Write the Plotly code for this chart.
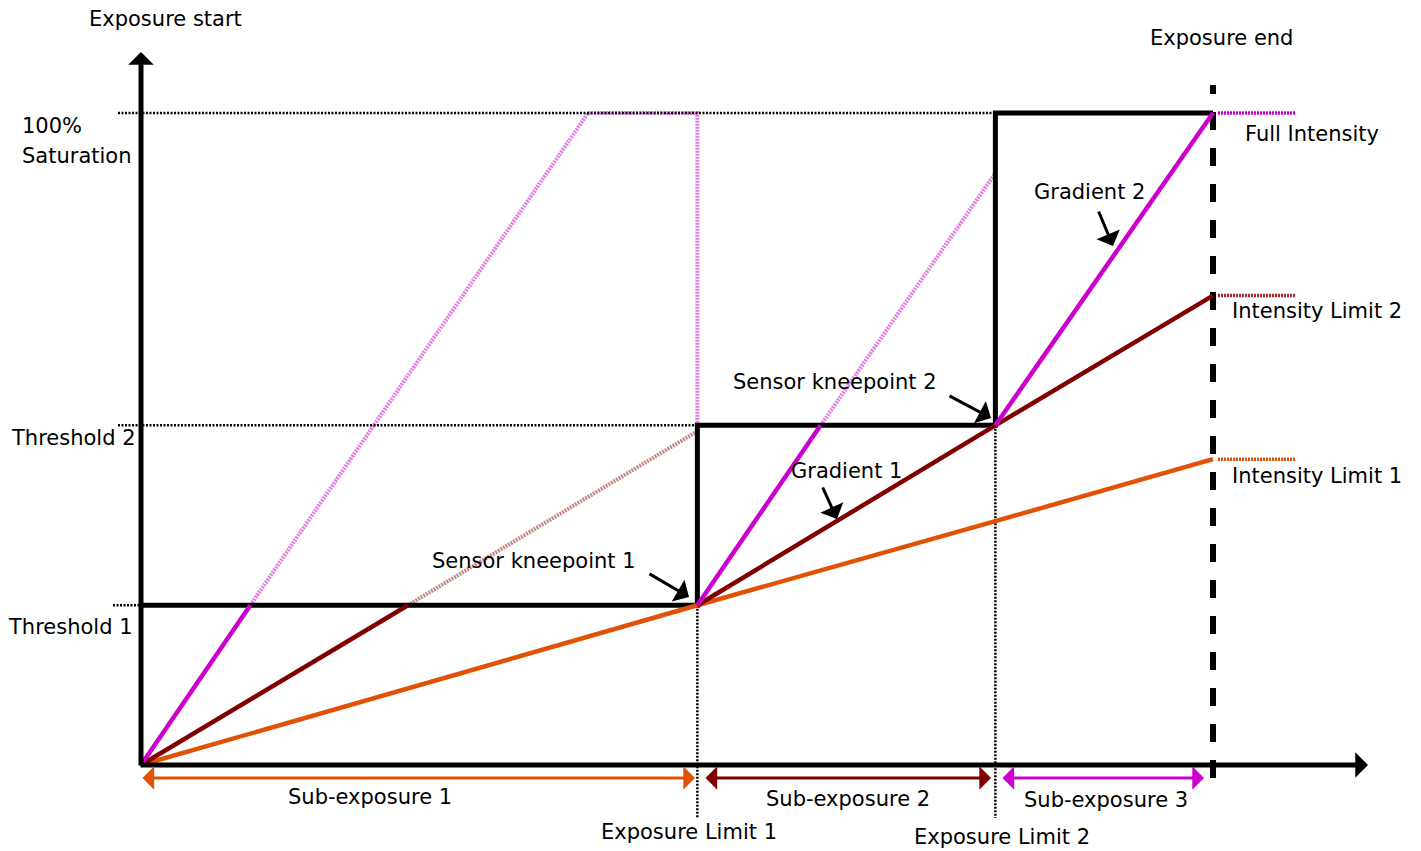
import plotly.graph_objects as go

# ---------------- data (time in % of exposure, level in % of saturation) ----
exposure_limits = [51.9, 79.7, 100.0]        # Exposure Limit 1, 2, Exposure end
thresholds = [24.5, 52.1, 100.0]             # Threshold 1, Threshold 2, 100% Saturation

# barrier (black step line)
barrier_t = [0, 51.9, 51.9, 79.7, 79.7, 100.0]
barrier_l = [24.5, 24.5, 52.1, 52.1, 100.0, 100.0]

# Full intensity (magenta)
full_solid_t = [0, 10.2, None, 51.9, 63.4, None, 79.7, 100.0]
full_solid_l = [0, 24.5, None, 24.5, 52.1, None, 52.1, 100.0]
full_faint_t = [10.2, 41.7, 51.9, 51.9, None, 63.4, 79.7]
full_faint_l = [24.5, 100.0, 100.0, 24.5, None, 52.1, 90.8]

# Intensity limit 2 (dark red)
lim2_solid_t = [0, 24.9, None, 51.9, 79.7, 100.0]
lim2_solid_l = [0, 24.5, None, 24.5, 52.1, 72.0]
lim2_faint_t = [24.9, 51.9]
lim2_faint_l = [24.5, 51.2]

# Intensity limit 1 (orange)
lim1_t = [0, 51.9, 79.7, 100.0]
lim1_l = [0, 24.5, 37.4, 46.9]

end_levels = [100.0, 72.0, 46.9]              # Full Intensity, Limit 2, Limit 1

MAGENTA = "#CC00CC"
MAGENTA_F = "#E27FE2"
DARKRED = "#800000"
DARKRED_F = "#C48A8A"
ORANGE = "#E05206"

W, H = 1421, 851
X0, Y0, SX, SY = 141, 765, 10.72, 6.52       # pixel mapping of the diagram frame


def tx(px):
    return (px - X0) / SX


def ly(py):
    return (Y0 - py) / SY


fig = go.Figure()


def line(t, l, color, width, dash="solid"):
    fig.add_trace(go.Scatter(x=t, y=l, mode="lines", hoverinfo="skip", showlegend=False,
                             line=dict(color=color, width=width, dash=dash),
                             connectgaps=False))


# faint (clipped) parts
line(full_faint_t, full_faint_l, MAGENTA_F, 4, "2px,1px")
line(lim2_faint_t, lim2_faint_l, DARKRED_F, 4, "2px,1px")

# dotted black guides
guide_end = [0, 51.9, 79.7]
guide_start = [tx(113), tx(118), tx(118)]
for lev, ts, te in zip(thresholds, guide_start, guide_end):
    line([ts, te], [lev, lev], "black", 2.5, "2px,1.5px")
# vertical dotted at exposure limits
line([exposure_limits[0], exposure_limits[0]], [thresholds[0], ly(818)], "black", 2.5, "2px,1.5px")
line([exposure_limits[1], exposure_limits[1]], [thresholds[1], ly(818)], "black", 2.5, "2px,1.5px")

# right-side dotted level markers
for lev, c in zip(end_levels, [MAGENTA, "#A52A2A", ORANGE]):
    line([tx(1218), tx(1296)], [lev, lev], c, 3.5, "2px,1px")

# black barrier
line(barrier_t, barrier_l, "black", 5)

# exposure end dashed
line([exposure_limits[2], exposure_limits[2]], [ly(778), ly(85)], "black", 6, "18px,18px")

# response curves
line(lim1_t, lim1_l, ORANGE, 4.5)
line(lim2_solid_t, lim2_solid_l, DARKRED, 4.5)
line(full_solid_t, full_solid_l, MAGENTA, 4.5)

ann = []


def arrow(x0, y0, x1, y1, color, width, size, both=False):
    d = dict(x=x1, y=y1, ax=x0, ay=y0, xref="x", yref="y", axref="x", ayref="y",
             text="", showarrow=True, arrowhead=1, arrowsize=size, arrowwidth=width,
             arrowcolor=color, standoff=0, startstandoff=0)
    if both:
        d.update(arrowside="end+start", startarrowhead=1, startarrowsize=size)
    ann.append(d)


# axes
arrow(0, ly(767), 0, ly(52), "black", 5, 0.85)
arrow(tx(139), 0, tx(1368), 0, "black", 5, 0.85)

# sub-exposure arrows
arrow(tx(141), ly(778), tx(695), ly(778), ORANGE, 3, 1.3, both=True)
arrow(tx(704), ly(778), tx(991), ly(778), DARKRED, 3, 1.3, both=True)
arrow(tx(1001), ly(778), tx(1204), ly(778), MAGENTA, 3, 1.3, both=True)

# pointer arrows
arrow(tx(648), ly(573), tx(689), ly(597), "black", 3, 1.4)
arrow(tx(948), ly(395), tx(991), ly(418), "black", 3, 1.4)
arrow(tx(822), ly(486), tx(837), ly(519), "black", 3, 1.4)
arrow(tx(1098), ly(210), tx(1113), ly(246), "black", 3, 1.4)

FONT = dict(family="DejaVu Sans", size=21, color="black")


def label(text, px, py, anchor="center"):
    ann.append(dict(x=tx(px), y=ly(py), xref="x", yref="y", text=text, showarrow=False,
                    xanchor=anchor, yanchor="middle", font=FONT))


label("Exposure start", 165, 19)
label("Exposure end", 1221, 38)
label("100%", 20, 126, "left")
label("Saturation", 20, 156, "left")
label("Threshold 2", 9, 438, "left")
label("Threshold 1", 6, 627, "left")
label("Full Intensity", 1243, 134, "left")
label("Intensity Limit 2", 1230, 311, "left")
label("Intensity Limit 1", 1230, 476, "left")
label("Gradient 2", 1089, 192)
label("Sensor kneepoint 2", 835, 382)
label("Gradient 1", 846, 471)
label("Sensor kneepoint 1", 534, 561)
label("Sub-exposure 1", 370, 797)
label("Sub-exposure 2", 848, 799)
label("Sub-exposure 3", 1106, 800)
label("Exposure Limit 1", 689, 832)
label("Exposure Limit 2", 1002, 837)

fig.update_layout(
    width=W, height=H, autosize=False,
    margin=dict(l=0, r=0, t=0, b=0, pad=0),
    plot_bgcolor="white", paper_bgcolor="white",
    xaxis=dict(range=[tx(0), tx(W)], visible=False, fixedrange=True),
    yaxis=dict(range=[ly(H), ly(0)], visible=False, fixedrange=True),
    annotations=ann,
    showlegend=False,
)

fig.write_html("out.html", config={"displayModeBar": False},
               post_script="document.body.style.margin='0px';document.body.style.overflow='hidden';")
